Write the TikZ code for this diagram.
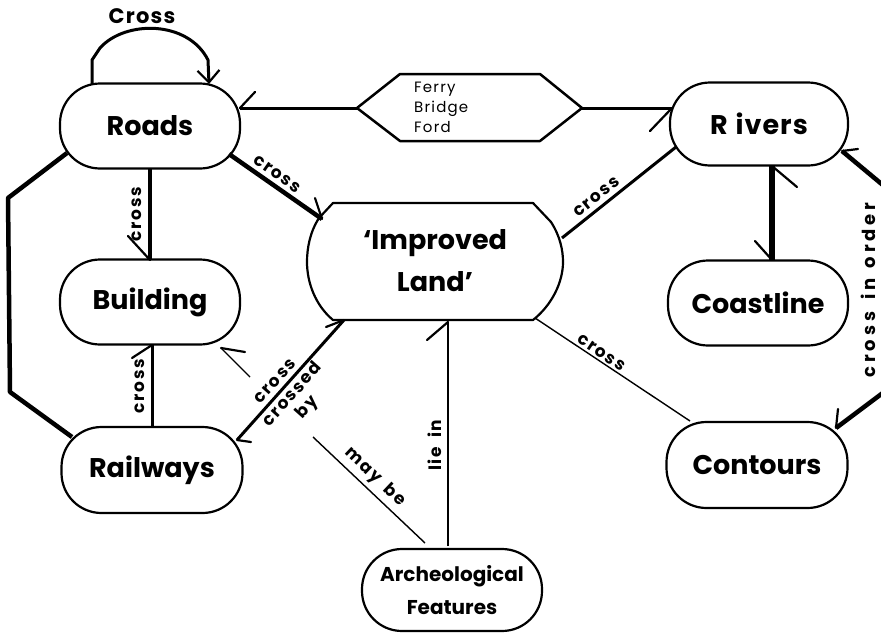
\documentclass[tikz,border=0pt]{standalone}
\usepackage{fontspec}
\setmainfont{Poppins}
\usetikzlibrary{arrows.meta,calc}
\begin{document}
\begin{tikzpicture}[x=1pt,y=-1pt,
  box/.style={draw, line width=2.2pt, rounded corners=40pt, minimum width=180pt, minimum height=85pt, inner sep=0pt, font=\fontsize{27}{31}\selectfont\bfseries},
  lab/.style={font=\fontsize{17}{18}\selectfont\bfseries\addfontfeature{LetterSpace=10}, inner sep=4pt},
  thn/.style={line width=1.4pt},
  med/.style={line width=3pt},
  thk/.style={line width=4.5pt},
  barb/.style={line width=2.2pt, line cap=round},
]
\useasboundingbox (0,0) rectangle (881,632);
% nodes
\node[box] (roads) at (150,126) {Roads};
\node[box] (build) at (150,302) {Building};
\node[box, minimum width=181pt, minimum height=86pt] (rail) at (152,470) {Railways};
\node[align=center, inner sep=0pt, minimum width=256pt, minimum height=117pt, font=\fontsize{27}{42}\selectfont\bfseries] (land) at (435,261) {‘Improved\\Land’};
\draw[line width=2.2pt, line join=round]
  (333,203) -- (533,203) -- (551,222) .. controls (560,236) and (563,250) .. (563,262)
  .. controls (563,282) and (552,305) .. (533,320) -- (333,320)
  .. controls (315,305) and (307,282) .. (307,262) .. controls (307,248) and (310,232) .. (319,218) -- cycle;
\node[box, minimum width=178pt, minimum height=83pt] (rivers) at (759,124) {R\kern8pt i\kern1pt v\kern1pt e\kern1pt r\kern1pt s};
\node[box] (coast) at (758,303) {Coastline};
\node[box, minimum width=181pt, minimum height=86pt] (cont) at (757,465) {Contours};
\node[box, minimum height=82pt, align=center, font=\fontsize{20}{33}\selectfont\bfseries] (arch) at (452,590) {Archeological\\Features};
% hexagon
\coordinate (hexL) at (357,108);
\coordinate (hexR) at (582,108);
\draw[line width=2.5pt, line join=round] (hexL) -- (400,74) -- (540,74) -- (hexR) -- (540,141) -- (400,141) -- cycle;
\node[align=left, anchor=west, font=\fontsize{15}{20}\selectfont\addfontfeature{LetterSpace=8}, inner sep=0pt] (hex) at (414,107) {Ferry\\Bridge\\Ford};
% self loop on roads
\coordinate (lp1) at (92,84);
\coordinate (lp2) at (209,84);
\draw[med, -{Straight Barb[length=12pt,width=22pt,line width=2.2pt]}] (lp1) -- (92,60) -- (100,48) .. controls (125,20) and (188,20) .. (208,60) -- (lp2);
\node[lab, font=\fontsize{21}{22}\selectfont\bfseries\addfontfeature{LetterSpace=6}] (crosslbl) at (142,16) {Cross};
% hexagon to roads / rivers
\coordinate (rE) at (240,108);
\coordinate (rvW) at (672,108);
\draw[med] (hexL) -- (rE);
\draw[barb] (rE) -- (255,92);
\draw[med] (hexR) -- (rvW);
\draw[barb] (rvW) -- (650,131);
% roads -> land
\coordinate (a1) at (229,154);
\coordinate (a2) at (322,219);
\draw[thk] (a1) -- (a2) node[lab, pos=0.45, above, sloped] {cross};
\draw[barb] (a2) -- (315,198);
% roads -> building
\coordinate (rS) at (150,168);
\coordinate (bN) at (150,260);
\draw[thk] (rS) -- (bN) node[lab, midway, rotate=90, anchor=south, inner sep=6pt] {cross};
\draw[barb] (bN) -- (128,236);
% railways -> building
\coordinate (rlN) at (152,427);
\coordinate (bS) at (152,345);
\draw[med] (rlN) -- (bS) node[lab, midway, rotate=90, anchor=south, inner sep=6pt] {cross};
\draw[barb] (bS) -- (132,358);
% left path roads -- railways
\coordinate (b1) at (67,153);
\coordinate (b2) at (72,437);
\draw[thk, line join=round] (b1) -- (8,198) -- (10,392) -- (b2);
% railways <-> land
\coordinate (c1) at (237,440);
\coordinate (c2) at (344,320);
\draw[med] (c1) -- (c2)
  node[lab, pos=0.43, above, sloped] {cross}
  node[lab, pos=0.44, below, sloped, align=center, inner sep=2pt, font=\fontsize{17}{19}\selectfont\bfseries\addfontfeature{LetterSpace=10}] {crossed\\by};
\draw[barb] (c1) -- (251,442);
\draw[barb] (c2) -- (326,327);
% archeological -> building (may be)
\coordinate (d1) at (425,543);
\coordinate (d2) at (313,437);
\draw[thn] (d2) -- (d1) node[lab, pos=0.47, above, sloped] {may\hspace{9pt}be};
\coordinate (d3) at (250,377);
\coordinate (d4) at (221,348);
\draw[thn] (d3) -- (d4);
\draw[barb] (d4) -- (245,352);
% archeological -> land (lie in)
\coordinate (e1) at (448,546);
\coordinate (e2) at (448,322);
\draw[thn] (e1) -- (e2) node[lab, pos=0.45, rotate=90, anchor=south, inner sep=6pt] {lie\hspace{9pt}in};
\draw[barb] (e2) -- (427,340);
% land -- contours
\coordinate (f1) at (535,318);
\coordinate (f2) at (690,421);
\draw[thn] (f1) -- (f2) node[lab, pos=0.4, above, sloped, inner sep=2pt] {cross};
% land -- rivers
\coordinate (g1) at (562,238);
\coordinate (g2) at (676,147);
\draw[med] (g1) -- (g2) node[lab, pos=0.36, above, sloped] {cross};
% rivers <-> coastline
\coordinate (h1) at (772,166);
\coordinate (h2) at (772,260);
\draw[line width=6pt] (h1) -- (h2);
\draw[barb] (h1) -- (797,187);
\draw[barb] (h2) -- (755,241);
% rivers <-> contours
\coordinate (k1) at (842,151);
\coordinate (k2) at (836,428);
\draw[thk, line join=round] (k1) -- (884,186) -- (884,392) -- (k2);
\draw[barb] (k1) -- (858,149);
\draw[barb] (k2) -- (838,409);
\node[lab, rotate=90, inner sep=0pt, font=\fontsize{18}{18}\selectfont\bfseries\addfontfeature{LetterSpace=22}] (orderlbl) at (868,290) {cross\hspace{12pt}in\hspace{10pt}order};
\end{tikzpicture}
\end{document}
